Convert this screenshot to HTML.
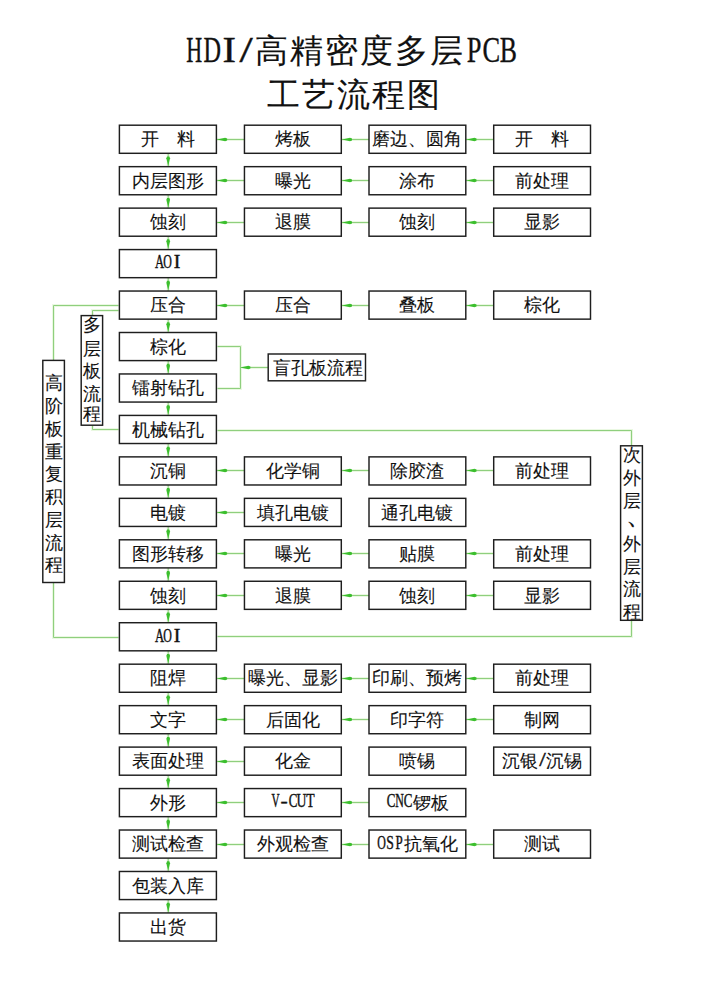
<!DOCTYPE html>
<html><head><meta charset="utf-8">
<style>
html,body{margin:0;padding:0;background:#fff;}
body{width:703px;height:998px;position:relative;overflow:hidden;font-family:"Liberation Sans",sans-serif;color:#111;-webkit-text-stroke:0.1px #111;}
.t{position:absolute;left:0;width:703px;text-align:center;font-size:32.5px;line-height:44px;white-space:nowrap;letter-spacing:2px;}
.t .c{width:17.25px;}
.t .g{top:-0.5px;letter-spacing:0;font-size:1.13em;}
.b{position:absolute;box-sizing:border-box;height:29.55px;display:flex;align-items:center;justify-content:center;font-size:17.5px;white-space:nowrap;line-height:1;padding-top:2px;}
.vc{position:absolute;width:40px;text-align:center;font-size:17.5px;line-height:17.5px;}
.c{display:inline-block;width:.5em;text-align:center;}
.g{display:inline-block;margin:0 -1em;font-family:"Liberation Serif",serif;font-size:1.03em;position:relative;top:-2px;-webkit-text-stroke:0.4px #111;}
svg{position:absolute;left:0;top:0;}
polyline{fill:none;stroke:#8fcf7e;stroke-width:1.0;}
polyline.h,line.h{stroke:#eaf8e2;stroke-width:3;}
line{stroke:#8fcf7e;stroke-width:1.0;}
polygon{fill:#3cbf2e;}
rect{fill:#fff;stroke:#1e1e1e;stroke-width:1.45;}
</style></head><body>
<svg width="703" height="998" viewBox="0 0 703 998">
<polyline class="h" points="216.50,139.50 244.50,139.50"/>
<polyline class="h" points="341.50,139.50 369.50,139.50"/>
<polyline class="h" points="465.50,139.50 493.50,139.50"/>
<polyline class="h" points="216.50,180.50 244.50,180.50"/>
<polyline class="h" points="341.50,180.50 369.50,180.50"/>
<polyline class="h" points="465.50,180.50 493.50,180.50"/>
<polyline class="h" points="216.50,222.50 244.50,222.50"/>
<polyline class="h" points="341.50,222.50 369.50,222.50"/>
<polyline class="h" points="465.50,222.50 493.50,222.50"/>
<polyline class="h" points="216.50,305.50 244.50,305.50"/>
<polyline class="h" points="341.50,305.50 369.50,305.50"/>
<polyline class="h" points="465.50,305.50 493.50,305.50"/>
<polyline class="h" points="216.50,470.50 244.50,470.50"/>
<polyline class="h" points="341.50,470.50 369.50,470.50"/>
<polyline class="h" points="465.50,470.50 493.50,470.50"/>
<polyline class="h" points="216.50,512.50 244.50,512.50"/>
<polyline class="h" points="216.50,553.50 244.50,553.50"/>
<polyline class="h" points="341.50,553.50 369.50,553.50"/>
<polyline class="h" points="465.50,553.50 493.50,553.50"/>
<polyline class="h" points="216.50,595.50 244.50,595.50"/>
<polyline class="h" points="341.50,595.50 369.50,595.50"/>
<polyline class="h" points="465.50,595.50 493.50,595.50"/>
<polyline class="h" points="216.50,678.50 244.50,678.50"/>
<polyline class="h" points="341.50,678.50 369.50,678.50"/>
<polyline class="h" points="465.50,678.50 493.50,678.50"/>
<polyline class="h" points="216.50,719.50 244.50,719.50"/>
<polyline class="h" points="341.50,719.50 369.50,719.50"/>
<polyline class="h" points="465.50,719.50 493.50,719.50"/>
<polyline class="h" points="216.50,761.50 244.50,761.50"/>
<polyline class="h" points="216.50,802.50 244.50,802.50"/>
<polyline class="h" points="341.50,802.50 369.50,802.50"/>
<polyline class="h" points="216.50,844.50 244.50,844.50"/>
<polyline class="h" points="341.50,844.50 369.50,844.50"/>
<polyline class="h" points="465.50,844.50 493.50,844.50"/>
<line class="h" x1="168.2" y1="153.30" x2="168.2" y2="166.66"/>
<line class="h" x1="168.2" y1="194.76" x2="168.2" y2="208.12"/>
<line class="h" x1="168.2" y1="236.22" x2="168.2" y2="249.58"/>
<line class="h" x1="168.2" y1="277.68" x2="168.2" y2="291.04"/>
<line class="h" x1="168.2" y1="319.14" x2="168.2" y2="332.50"/>
<line class="h" x1="168.2" y1="360.60" x2="168.2" y2="373.96"/>
<line class="h" x1="168.2" y1="402.06" x2="168.2" y2="415.42"/>
<line class="h" x1="168.2" y1="443.52" x2="168.2" y2="456.88"/>
<line class="h" x1="168.2" y1="484.98" x2="168.2" y2="498.34"/>
<line class="h" x1="168.2" y1="526.44" x2="168.2" y2="539.80"/>
<line class="h" x1="168.2" y1="567.90" x2="168.2" y2="581.26"/>
<line class="h" x1="168.2" y1="609.36" x2="168.2" y2="622.72"/>
<line class="h" x1="168.2" y1="650.82" x2="168.2" y2="664.18"/>
<line class="h" x1="168.2" y1="692.28" x2="168.2" y2="705.64"/>
<line class="h" x1="168.2" y1="733.74" x2="168.2" y2="747.10"/>
<line class="h" x1="168.2" y1="775.20" x2="168.2" y2="788.56"/>
<line class="h" x1="168.2" y1="816.66" x2="168.2" y2="830.02"/>
<line class="h" x1="168.2" y1="858.12" x2="168.2" y2="871.48"/>
<line class="h" x1="168.2" y1="899.58" x2="168.2" y2="912.94"/>
<polyline class="h" points="53.50,360.50 53.50,305.50 118.50,305.50"/>
<polyline class="h" points="53.50,582.50 53.50,637.50 118.50,637.50"/>
<polyline class="h" points="92.50,315.50 92.50,310.50 118.50,310.50"/>
<polyline class="h" points="92.50,425.50 92.50,429.50 118.50,429.50"/>
<polyline class="h" points="217.50,346.50 240.50,346.50 240.50,388.50 217.50,388.50"/>
<polyline class="h" points="268.50,367.50 240.50,367.50"/>
<polyline class="h" points="217.50,430.50 631.50,430.50 631.50,446.50"/>
<polyline class="h" points="631.50,620.50 631.50,636.50 217.50,636.50"/>
<polyline points="216.50,139.50 244.50,139.50"/>
<polyline points="341.50,139.50 369.50,139.50"/>
<polyline points="465.50,139.50 493.50,139.50"/>
<polyline points="216.50,180.50 244.50,180.50"/>
<polyline points="341.50,180.50 369.50,180.50"/>
<polyline points="465.50,180.50 493.50,180.50"/>
<polyline points="216.50,222.50 244.50,222.50"/>
<polyline points="341.50,222.50 369.50,222.50"/>
<polyline points="465.50,222.50 493.50,222.50"/>
<polyline points="216.50,305.50 244.50,305.50"/>
<polyline points="341.50,305.50 369.50,305.50"/>
<polyline points="465.50,305.50 493.50,305.50"/>
<polyline points="216.50,470.50 244.50,470.50"/>
<polyline points="341.50,470.50 369.50,470.50"/>
<polyline points="465.50,470.50 493.50,470.50"/>
<polyline points="216.50,512.50 244.50,512.50"/>
<polyline points="216.50,553.50 244.50,553.50"/>
<polyline points="341.50,553.50 369.50,553.50"/>
<polyline points="465.50,553.50 493.50,553.50"/>
<polyline points="216.50,595.50 244.50,595.50"/>
<polyline points="341.50,595.50 369.50,595.50"/>
<polyline points="465.50,595.50 493.50,595.50"/>
<polyline points="216.50,678.50 244.50,678.50"/>
<polyline points="341.50,678.50 369.50,678.50"/>
<polyline points="465.50,678.50 493.50,678.50"/>
<polyline points="216.50,719.50 244.50,719.50"/>
<polyline points="341.50,719.50 369.50,719.50"/>
<polyline points="465.50,719.50 493.50,719.50"/>
<polyline points="216.50,761.50 244.50,761.50"/>
<polyline points="216.50,802.50 244.50,802.50"/>
<polyline points="341.50,802.50 369.50,802.50"/>
<polyline points="216.50,844.50 244.50,844.50"/>
<polyline points="341.50,844.50 369.50,844.50"/>
<polyline points="465.50,844.50 493.50,844.50"/>
<line x1="168.2" y1="153.30" x2="168.2" y2="166.66"/>
<line x1="168.2" y1="194.76" x2="168.2" y2="208.12"/>
<line x1="168.2" y1="236.22" x2="168.2" y2="249.58"/>
<line x1="168.2" y1="277.68" x2="168.2" y2="291.04"/>
<line x1="168.2" y1="319.14" x2="168.2" y2="332.50"/>
<line x1="168.2" y1="360.60" x2="168.2" y2="373.96"/>
<line x1="168.2" y1="402.06" x2="168.2" y2="415.42"/>
<line x1="168.2" y1="443.52" x2="168.2" y2="456.88"/>
<line x1="168.2" y1="484.98" x2="168.2" y2="498.34"/>
<line x1="168.2" y1="526.44" x2="168.2" y2="539.80"/>
<line x1="168.2" y1="567.90" x2="168.2" y2="581.26"/>
<line x1="168.2" y1="609.36" x2="168.2" y2="622.72"/>
<line x1="168.2" y1="650.82" x2="168.2" y2="664.18"/>
<line x1="168.2" y1="692.28" x2="168.2" y2="705.64"/>
<line x1="168.2" y1="733.74" x2="168.2" y2="747.10"/>
<line x1="168.2" y1="775.20" x2="168.2" y2="788.56"/>
<line x1="168.2" y1="816.66" x2="168.2" y2="830.02"/>
<line x1="168.2" y1="858.12" x2="168.2" y2="871.48"/>
<line x1="168.2" y1="899.58" x2="168.2" y2="912.94"/>
<polyline points="53.50,360.50 53.50,305.50 118.50,305.50"/>
<polyline points="53.50,582.50 53.50,637.50 118.50,637.50"/>
<polyline points="92.50,315.50 92.50,310.50 118.50,310.50"/>
<polyline points="92.50,425.50 92.50,429.50 118.50,429.50"/>
<polyline points="217.50,346.50 240.50,346.50 240.50,388.50 217.50,388.50"/>
<polyline points="268.50,367.50 240.50,367.50"/>
<polyline points="217.50,430.50 631.50,430.50 631.50,446.50"/>
<polyline points="631.50,620.50 631.50,636.50 217.50,636.50"/>
<rect x="119.40" y="125.20" width="97.00" height="28.10"/>
<rect x="244.45" y="125.20" width="96.85" height="28.10"/>
<rect x="369.00" y="125.20" width="96.80" height="28.10"/>
<rect x="493.70" y="125.20" width="96.80" height="28.10"/>
<rect x="119.40" y="166.66" width="97.00" height="28.10"/>
<rect x="244.45" y="166.66" width="96.85" height="28.10"/>
<rect x="369.00" y="166.66" width="96.80" height="28.10"/>
<rect x="493.70" y="166.66" width="96.80" height="28.10"/>
<rect x="119.40" y="208.12" width="97.00" height="28.10"/>
<rect x="244.45" y="208.12" width="96.85" height="28.10"/>
<rect x="369.00" y="208.12" width="96.80" height="28.10"/>
<rect x="493.70" y="208.12" width="96.80" height="28.10"/>
<rect x="119.40" y="249.58" width="97.00" height="28.10"/>
<rect x="119.40" y="291.04" width="97.00" height="28.10"/>
<rect x="244.45" y="291.04" width="96.85" height="28.10"/>
<rect x="369.00" y="291.04" width="96.80" height="28.10"/>
<rect x="493.70" y="291.04" width="96.80" height="28.10"/>
<rect x="119.40" y="332.50" width="97.00" height="28.10"/>
<rect x="119.40" y="373.96" width="97.00" height="28.10"/>
<rect x="119.40" y="415.42" width="97.00" height="28.10"/>
<rect x="119.40" y="456.88" width="97.00" height="28.10"/>
<rect x="244.45" y="456.88" width="96.85" height="28.10"/>
<rect x="369.00" y="456.88" width="96.80" height="28.10"/>
<rect x="493.70" y="456.88" width="96.80" height="28.10"/>
<rect x="119.40" y="498.34" width="97.00" height="28.10"/>
<rect x="244.45" y="498.34" width="96.85" height="28.10"/>
<rect x="369.00" y="498.34" width="96.80" height="28.10"/>
<rect x="119.40" y="539.80" width="97.00" height="28.10"/>
<rect x="244.45" y="539.80" width="96.85" height="28.10"/>
<rect x="369.00" y="539.80" width="96.80" height="28.10"/>
<rect x="493.70" y="539.80" width="96.80" height="28.10"/>
<rect x="119.40" y="581.26" width="97.00" height="28.10"/>
<rect x="244.45" y="581.26" width="96.85" height="28.10"/>
<rect x="369.00" y="581.26" width="96.80" height="28.10"/>
<rect x="493.70" y="581.26" width="96.80" height="28.10"/>
<rect x="119.40" y="622.72" width="97.00" height="28.10"/>
<rect x="119.40" y="664.18" width="97.00" height="28.10"/>
<rect x="244.45" y="664.18" width="96.85" height="28.10"/>
<rect x="369.00" y="664.18" width="96.80" height="28.10"/>
<rect x="493.70" y="664.18" width="96.80" height="28.10"/>
<rect x="119.40" y="705.64" width="97.00" height="28.10"/>
<rect x="244.45" y="705.64" width="96.85" height="28.10"/>
<rect x="369.00" y="705.64" width="96.80" height="28.10"/>
<rect x="493.70" y="705.64" width="96.80" height="28.10"/>
<rect x="119.40" y="747.10" width="97.00" height="28.10"/>
<rect x="244.45" y="747.10" width="96.85" height="28.10"/>
<rect x="369.00" y="747.10" width="96.80" height="28.10"/>
<rect x="493.70" y="747.10" width="96.80" height="28.10"/>
<rect x="119.40" y="788.56" width="97.00" height="28.10"/>
<rect x="244.45" y="788.56" width="96.85" height="28.10"/>
<rect x="369.00" y="788.56" width="96.80" height="28.10"/>
<rect x="119.40" y="830.02" width="97.00" height="28.10"/>
<rect x="244.45" y="830.02" width="96.85" height="28.10"/>
<rect x="369.00" y="830.02" width="96.80" height="28.10"/>
<rect x="493.70" y="830.02" width="96.80" height="28.10"/>
<rect x="119.40" y="871.48" width="97.00" height="28.10"/>
<rect x="119.40" y="912.94" width="97.00" height="28.10"/>
<rect x="268.20" y="354.00" width="97.30" height="26.80"/>
<rect x="81.20" y="315.60" width="21.40" height="109.60"/>
<rect x="42.80" y="360.40" width="21.60" height="222.10"/>
<rect x="620.60" y="445.80" width="21.80" height="174.50"/>
<polygon points="217.12,139.50 225.12,137.75 227.12,138.45 227.12,140.55 225.12,141.25"/>
<polygon points="342.03,139.50 350.03,137.75 352.03,138.45 352.03,140.55 350.03,141.25"/>
<polygon points="466.53,139.50 474.53,137.75 476.53,138.45 476.53,140.55 474.53,141.25"/>
<polygon points="217.12,180.50 225.12,178.75 227.12,179.45 227.12,181.55 225.12,182.25"/>
<polygon points="342.03,180.50 350.03,178.75 352.03,179.45 352.03,181.55 350.03,182.25"/>
<polygon points="466.53,180.50 474.53,178.75 476.53,179.45 476.53,181.55 474.53,182.25"/>
<polygon points="217.12,222.50 225.12,220.75 227.12,221.45 227.12,223.55 225.12,224.25"/>
<polygon points="342.03,222.50 350.03,220.75 352.03,221.45 352.03,223.55 350.03,224.25"/>
<polygon points="466.53,222.50 474.53,220.75 476.53,221.45 476.53,223.55 474.53,224.25"/>
<polygon points="217.12,305.50 225.12,303.75 227.12,304.45 227.12,306.55 225.12,307.25"/>
<polygon points="342.03,305.50 350.03,303.75 352.03,304.45 352.03,306.55 350.03,307.25"/>
<polygon points="466.53,305.50 474.53,303.75 476.53,304.45 476.53,306.55 474.53,307.25"/>
<polygon points="217.12,470.50 225.12,468.75 227.12,469.45 227.12,471.55 225.12,472.25"/>
<polygon points="342.03,470.50 350.03,468.75 352.03,469.45 352.03,471.55 350.03,472.25"/>
<polygon points="466.53,470.50 474.53,468.75 476.53,469.45 476.53,471.55 474.53,472.25"/>
<polygon points="217.12,512.50 225.12,510.75 227.12,511.45 227.12,513.55 225.12,514.25"/>
<polygon points="217.12,553.50 225.12,551.75 227.12,552.45 227.12,554.55 225.12,555.25"/>
<polygon points="342.03,553.50 350.03,551.75 352.03,552.45 352.03,554.55 350.03,555.25"/>
<polygon points="466.53,553.50 474.53,551.75 476.53,552.45 476.53,554.55 474.53,555.25"/>
<polygon points="217.12,595.50 225.12,593.75 227.12,594.45 227.12,596.55 225.12,597.25"/>
<polygon points="342.03,595.50 350.03,593.75 352.03,594.45 352.03,596.55 350.03,597.25"/>
<polygon points="466.53,595.50 474.53,593.75 476.53,594.45 476.53,596.55 474.53,597.25"/>
<polygon points="217.12,678.50 225.12,676.75 227.12,677.45 227.12,679.55 225.12,680.25"/>
<polygon points="342.03,678.50 350.03,676.75 352.03,677.45 352.03,679.55 350.03,680.25"/>
<polygon points="466.53,678.50 474.53,676.75 476.53,677.45 476.53,679.55 474.53,680.25"/>
<polygon points="217.12,719.50 225.12,717.75 227.12,718.45 227.12,720.55 225.12,721.25"/>
<polygon points="342.03,719.50 350.03,717.75 352.03,718.45 352.03,720.55 350.03,721.25"/>
<polygon points="466.53,719.50 474.53,717.75 476.53,718.45 476.53,720.55 474.53,721.25"/>
<polygon points="217.12,761.50 225.12,759.75 227.12,760.45 227.12,762.55 225.12,763.25"/>
<polygon points="217.12,802.50 225.12,800.75 227.12,801.45 227.12,803.55 225.12,804.25"/>
<polygon points="342.03,802.50 350.03,800.75 352.03,801.45 352.03,803.55 350.03,804.25"/>
<polygon points="217.12,844.50 225.12,842.75 227.12,843.45 227.12,845.55 225.12,846.25"/>
<polygon points="342.03,844.50 350.03,842.75 352.03,843.45 352.03,845.55 350.03,846.25"/>
<polygon points="466.53,844.50 474.53,842.75 476.53,843.45 476.53,845.55 474.53,846.25"/>
<polygon points="168.20,165.94 166.35,158.34 167.09,156.44 169.31,156.44 170.05,158.34"/>
<polygon points="168.20,207.40 166.35,199.80 167.09,197.90 169.31,197.90 170.05,199.80"/>
<polygon points="168.20,248.85 166.35,241.25 167.09,239.35 169.31,239.35 170.05,241.25"/>
<polygon points="168.20,290.31 166.35,282.71 167.09,280.81 169.31,280.81 170.05,282.71"/>
<polygon points="168.20,331.77 166.35,324.17 167.09,322.27 169.31,322.27 170.05,324.17"/>
<polygon points="168.20,373.23 166.35,365.63 167.09,363.73 169.31,363.73 170.05,365.63"/>
<polygon points="168.20,414.69 166.35,407.09 167.09,405.19 169.31,405.19 170.05,407.09"/>
<polygon points="168.20,456.15 166.35,448.55 167.09,446.65 169.31,446.65 170.05,448.55"/>
<polygon points="168.20,497.61 166.35,490.01 167.09,488.11 169.31,488.11 170.05,490.01"/>
<polygon points="168.20,539.08 166.35,531.48 167.09,529.58 169.31,529.58 170.05,531.48"/>
<polygon points="168.20,580.53 166.35,572.93 167.09,571.03 169.31,571.03 170.05,572.93"/>
<polygon points="168.20,622.00 166.35,614.39 167.09,612.50 169.31,612.50 170.05,614.39"/>
<polygon points="168.20,663.46 166.35,655.86 167.09,653.96 169.31,653.96 170.05,655.86"/>
<polygon points="168.20,704.92 166.35,697.32 167.09,695.42 169.31,695.42 170.05,697.32"/>
<polygon points="168.20,746.38 166.35,738.77 167.09,736.88 169.31,736.88 170.05,738.77"/>
<polygon points="168.20,787.84 166.35,780.24 167.09,778.34 169.31,778.34 170.05,780.24"/>
<polygon points="168.20,829.30 166.35,821.70 167.09,819.80 169.31,819.80 170.05,821.70"/>
<polygon points="168.20,870.75 166.35,863.15 167.09,861.25 169.31,861.25 170.05,863.15"/>
<polygon points="168.20,912.22 166.35,904.62 167.09,902.72 169.31,902.72 170.05,904.62"/>
<polygon points="240.40,367.50 248.40,365.75 250.40,366.45 250.40,368.55 248.40,369.25"/>
</svg>
<div class="t" style="top:28px"><span class="c"><span class="g" style="transform:scaleX(0.6)">H</span></span><span class="c"><span class="g" style="transform:scaleX(0.66)">D</span></span><span class="c"><span class="g" style="transform:scaleX(1.1)">I</span></span><span class="c"><span class="g" style="transform:scaleX(1.3)">/</span></span>高精密度多层<span class="c"><span class="g" style="transform:scaleX(0.72)">P</span></span><span class="c"><span class="g" style="transform:scaleX(0.72)">C</span></span><span class="c"><span class="g" style="transform:scaleX(0.7)">B</span></span></div>
<div class="t" style="top:72.5px;left:2.5px">工艺流程图</div>
<div class="b" style="left:118.68px;top:124.48px;width:98.45px">开　料</div>
<div class="b" style="left:243.72px;top:124.48px;width:98.30px">烤板</div>
<div class="b" style="left:368.27px;top:124.48px;width:98.25px">磨边、圆角</div>
<div class="b" style="left:492.97px;top:124.48px;width:98.25px">开　料</div>
<div class="b" style="left:118.68px;top:165.94px;width:98.45px">内层图形</div>
<div class="b" style="left:243.72px;top:165.94px;width:98.30px">曝光</div>
<div class="b" style="left:368.27px;top:165.94px;width:98.25px">涂布</div>
<div class="b" style="left:492.97px;top:165.94px;width:98.25px">前处理</div>
<div class="b" style="left:118.68px;top:207.40px;width:98.45px">蚀刻</div>
<div class="b" style="left:243.72px;top:207.40px;width:98.30px">退膜</div>
<div class="b" style="left:368.27px;top:207.40px;width:98.25px">蚀刻</div>
<div class="b" style="left:492.97px;top:207.40px;width:98.25px">显影</div>
<div class="b" style="left:118.68px;top:248.85px;width:98.45px"><span class="c"><span class="g" style="transform:scaleX(0.7)">A</span></span><span class="c"><span class="g" style="transform:scaleX(0.66)">O</span></span><span class="c"><span class="g" style="transform:scaleX(1.1)">I</span></span></div>
<div class="b" style="left:118.68px;top:290.31px;width:98.45px">压合</div>
<div class="b" style="left:243.72px;top:290.31px;width:98.30px">压合</div>
<div class="b" style="left:368.27px;top:290.31px;width:98.25px">叠板</div>
<div class="b" style="left:492.97px;top:290.31px;width:98.25px">棕化</div>
<div class="b" style="left:118.68px;top:331.77px;width:98.45px">棕化</div>
<div class="b" style="left:118.68px;top:373.23px;width:98.45px">镭射钻孔</div>
<div class="b" style="left:118.68px;top:414.69px;width:98.45px">机械钻孔</div>
<div class="b" style="left:118.68px;top:456.15px;width:98.45px">沉铜</div>
<div class="b" style="left:243.72px;top:456.15px;width:98.30px">化学铜</div>
<div class="b" style="left:368.27px;top:456.15px;width:98.25px">除胶渣</div>
<div class="b" style="left:492.97px;top:456.15px;width:98.25px">前处理</div>
<div class="b" style="left:118.68px;top:497.61px;width:98.45px">电镀</div>
<div class="b" style="left:243.72px;top:497.61px;width:98.30px">填孔电镀</div>
<div class="b" style="left:368.27px;top:497.61px;width:98.25px">通孔电镀</div>
<div class="b" style="left:118.68px;top:539.08px;width:98.45px">图形转移</div>
<div class="b" style="left:243.72px;top:539.08px;width:98.30px">曝光</div>
<div class="b" style="left:368.27px;top:539.08px;width:98.25px">贴膜</div>
<div class="b" style="left:492.97px;top:539.08px;width:98.25px">前处理</div>
<div class="b" style="left:118.68px;top:580.53px;width:98.45px">蚀刻</div>
<div class="b" style="left:243.72px;top:580.53px;width:98.30px">退膜</div>
<div class="b" style="left:368.27px;top:580.53px;width:98.25px">蚀刻</div>
<div class="b" style="left:492.97px;top:580.53px;width:98.25px">显影</div>
<div class="b" style="left:118.68px;top:622.00px;width:98.45px"><span class="c"><span class="g" style="transform:scaleX(0.7)">A</span></span><span class="c"><span class="g" style="transform:scaleX(0.66)">O</span></span><span class="c"><span class="g" style="transform:scaleX(1.1)">I</span></span></div>
<div class="b" style="left:118.68px;top:663.46px;width:98.45px">阻焊</div>
<div class="b" style="left:243.72px;top:663.46px;width:98.30px">曝光、显影</div>
<div class="b" style="left:368.27px;top:663.46px;width:98.25px">印刷、预烤</div>
<div class="b" style="left:492.97px;top:663.46px;width:98.25px">前处理</div>
<div class="b" style="left:118.68px;top:704.92px;width:98.45px">文字</div>
<div class="b" style="left:243.72px;top:704.92px;width:98.30px">后固化</div>
<div class="b" style="left:368.27px;top:704.92px;width:98.25px">印字符</div>
<div class="b" style="left:492.97px;top:704.92px;width:98.25px">制网</div>
<div class="b" style="left:118.68px;top:746.38px;width:98.45px">表面处理</div>
<div class="b" style="left:243.72px;top:746.38px;width:98.30px">化金</div>
<div class="b" style="left:368.27px;top:746.38px;width:98.25px">喷锡</div>
<div class="b" style="left:492.97px;top:746.38px;width:98.25px">沉银<span class="c"><span class="g" style="transform:scaleX(1.3)">/</span></span>沉锡</div>
<div class="b" style="left:118.68px;top:787.84px;width:98.45px">外形</div>
<div class="b" style="left:243.72px;top:787.84px;width:98.30px"><span class="c"><span class="g" style="transform:scaleX(0.62)">V</span></span><span class="c"><span class="g" style="transform:scaleX(1.2)">-</span></span><span class="c"><span class="g" style="transform:scaleX(0.72)">C</span></span><span class="c"><span class="g" style="transform:scaleX(0.76)">U</span></span><span class="c"><span class="g" style="transform:scaleX(0.76)">T</span></span></div>
<div class="b" style="left:368.27px;top:787.84px;width:98.25px"><span class="c"><span class="g" style="transform:scaleX(0.72)">C</span></span><span class="c"><span class="g" style="transform:scaleX(0.66)">N</span></span><span class="c"><span class="g" style="transform:scaleX(0.72)">C</span></span>锣板</div>
<div class="b" style="left:118.68px;top:829.30px;width:98.45px">测试检查</div>
<div class="b" style="left:243.72px;top:829.30px;width:98.30px">外观检查</div>
<div class="b" style="left:368.27px;top:829.30px;width:98.25px"><span class="c"><span class="g" style="transform:scaleX(0.66)">O</span></span><span class="c"><span class="g" style="transform:scaleX(0.76)">S</span></span><span class="c"><span class="g" style="transform:scaleX(0.72)">P</span></span>抗氧化</div>
<div class="b" style="left:492.97px;top:829.30px;width:98.25px">测试</div>
<div class="b" style="left:118.68px;top:870.75px;width:98.45px">包装入库</div>
<div class="b" style="left:118.68px;top:912.22px;width:98.45px">出货</div>
<div class="vc" style="left:71.90px;top:317.40px">多</div>
<div class="vc" style="left:71.90px;top:341.20px">层</div>
<div class="vc" style="left:71.90px;top:362.90px">板</div>
<div class="vc" style="left:71.90px;top:385.70px">流</div>
<div class="vc" style="left:71.90px;top:406.30px">程</div>
<div class="vc" style="left:33.60px;top:375.30px">高</div>
<div class="vc" style="left:33.60px;top:398.05px">阶</div>
<div class="vc" style="left:33.60px;top:420.80px">板</div>
<div class="vc" style="left:33.60px;top:443.55px">重</div>
<div class="vc" style="left:33.60px;top:466.30px">复</div>
<div class="vc" style="left:33.60px;top:489.05px">积</div>
<div class="vc" style="left:33.60px;top:511.80px">层</div>
<div class="vc" style="left:33.60px;top:534.55px">流</div>
<div class="vc" style="left:33.60px;top:557.30px">程</div>
<div class="vc" style="left:611.50px;top:447.00px">次</div>
<div class="vc" style="left:611.50px;top:469.60px">外</div>
<div class="vc" style="left:611.50px;top:492.60px">层</div>
<div class="vc" style="left:618.50px;top:506.90px;transform:scale(1.5)">、</div>
<div class="vc" style="left:611.50px;top:535.50px">外</div>
<div class="vc" style="left:611.50px;top:559.10px">层</div>
<div class="vc" style="left:611.50px;top:581.10px">流</div>
<div class="vc" style="left:611.50px;top:603.60px">程</div>
<div class="b" style="left:267.47px;top:353.27px;width:98.75px;height:28.25px;padding-left:2.5px;padding-top:2px">盲孔板流程</div>
</body></html>
